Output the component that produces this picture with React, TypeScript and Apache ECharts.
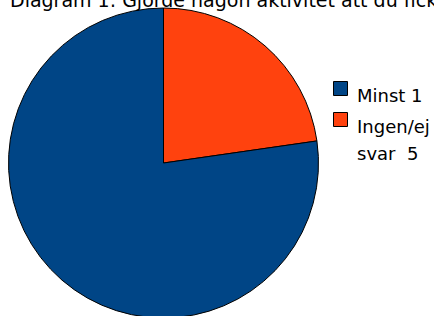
import React, { useEffect, useRef } from "react";
import * as echarts from "echarts";

const titleText = "Diagram 1: Gjorde någon aktivitet att du fick reda på något nytt?";
const categories = ["Ingen/ej\nsvar  5", "Minst 1"];
const values = [5, 17];
const colors = ["#ff420e", "#004586"];
const legendOrder = [1, 0]; // indices into categories: Minst 1 first

export default function App() {
  const ref = useRef<HTMLDivElement>(null);
  useEffect(() => {
    if (!ref.current) return;
    const chart = echarts.init(ref.current, null, { renderer: "svg" });
    const legendTops = [81, 112];
    const legendEls: any[] = [];
    legendOrder.forEach((ci, k) => {
      const top = legendTops[k];
      legendEls.push({
        type: "rect",
        shape: { x: 333.5, y: top + 0.5, width: 14, height: 14 },
        style: { fill: colors[ci], stroke: "#000", lineWidth: 1 },
      });
      legendEls.push({
        type: "text",
        x: 357,
        y: top + 1,
        style: {
          text: categories[ci],
          fontFamily: "DejaVu Sans",
          fontSize: 18,
          lineHeight: 27,
          fill: "#000",
          verticalAlign: "top",
        },
      });
    });
    chart.setOption({
      animation: false,
      title: {
        text: titleText,
        left: 10,
        top: -10,
        padding: 0,
        textStyle: { fontFamily: "DejaVu Sans", fontSize: 19, fontWeight: "normal", color: "#000" },
      },
      graphic: legendEls,
      series: [
        {
          type: "pie",
          center: [163.5, 163],
          radius: 155,
          startAngle: 90,
          clockwise: true,
          label: { show: false },
          labelLine: { show: false },
          emphasis: { disabled: true },
          itemStyle: { borderColor: "#000", borderWidth: 1 },
          data: categories.map((c, i) => ({ name: c, value: values[i], itemStyle: { color: colors[i] } })),
        },
      ],
    });
    return () => chart.dispose();
  }, []);
  return <div ref={ref} style={{ position: "absolute", left: 0, top: 0, width: 434, height: 316 }} />;
}
